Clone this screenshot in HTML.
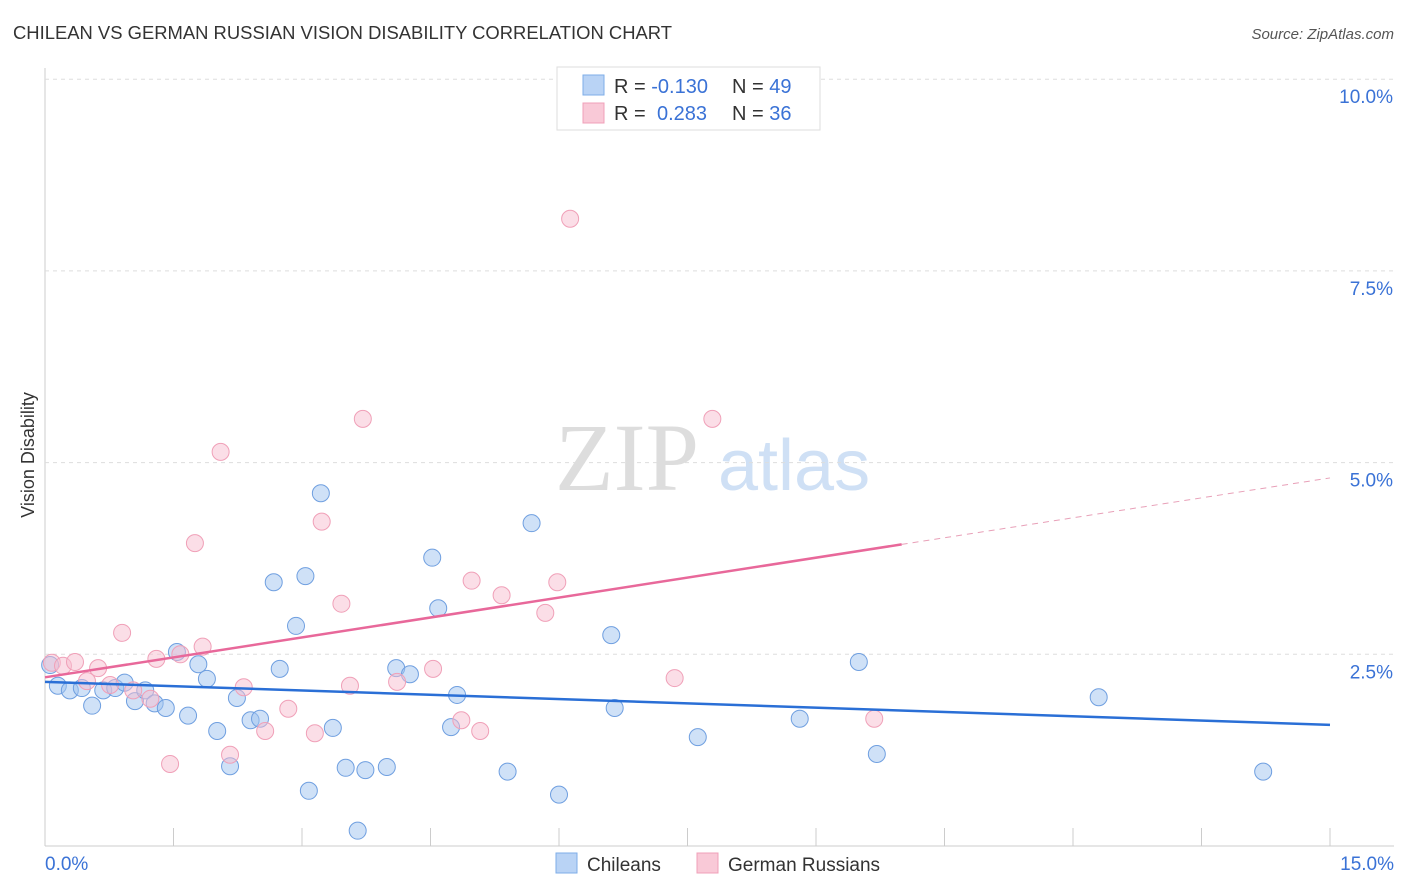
<!DOCTYPE html>
<html><head><meta charset="utf-8"><style>
body{margin:0;background:#fff;font-family:"Liberation Sans",sans-serif;}
svg{display:block}
</style></head><body>
<svg id="c" width="1406" height="892" xmlns="http://www.w3.org/2000/svg">
<text x="13" y="39" font-size="18" fill="#333" textLength="659" lengthAdjust="spacingAndGlyphs">CHILEAN VS GERMAN RUSSIAN VISION DISABILITY CORRELATION CHART</text>
<text x="1394" y="39" font-size="15" fill="#555" text-anchor="end" font-style="italic">Source: ZipAtlas.com</text>
<text x="555" y="490" font-size="96" fill="#ddd" font-family="Liberation Serif,serif">ZIP</text>
<text x="718" y="490" font-size="72" fill="#cfe0f5">atlas</text>
<text transform="translate(34,455) rotate(-90)" font-size="18" fill="#333" text-anchor="middle">Vision Disability</text>
<g id="grid"></g><g id="pts"></g><g id="lines"></g>
<g>
<rect x="557" y="67" width="263" height="63" fill="#fff" stroke="#ddd"/>
<rect x="583" y="75" width="21" height="20" fill="#b9d3f5" stroke="#7eaee8"/>
<rect x="583" y="103" width="21" height="20" fill="#f9c9d7" stroke="#f0a0b8"/>
<text x="614" y="93" font-size="20" fill="#333">R = <tspan fill="#3a72d6">-0.130</tspan><tspan x="732">N = </tspan><tspan fill="#3a72d6">49</tspan></text>
<text x="614" y="120" font-size="20" fill="#333">R = <tspan x="657" fill="#3a72d6">0.283</tspan><tspan x="732">N = </tspan><tspan fill="#3a72d6">36</tspan></text>
</g>
<g>
<rect x="556" y="853" width="21" height="20" fill="#b9d3f5" stroke="#7eaee8"/>
<text x="587" y="871" font-size="19" fill="#333">Chileans</text>
<rect x="697" y="853" width="21" height="20" fill="#f9c9d7" stroke="#f0a0b8"/>
<text x="728" y="871" font-size="19" fill="#333">German Russians</text>
</g>
</svg>
<script>
const yTicks=[2.5,5.0,7.5,10.0];
const xTickVals=[0,1.5,3,4.5,6,7.5,9,10.5,12,13.5,15];
const blueX=[0.06,0.15,0.29,0.43,0.55,0.68,0.82,0.93,1.05,1.17,1.28,1.41,1.54,1.67,1.79,1.89,2.01,2.16,2.24,2.40,2.51,2.67,2.74,2.93,3.04,3.08,3.22,3.36,3.51,3.65,3.74,3.99,4.10,4.26,4.59,4.52,4.74,4.81,5.40,5.68,6.00,6.61,6.65,7.62,8.81,9.50,9.71,12.30,14.22];
const blueY=[2.36,2.09,2.03,2.06,1.83,2.03,2.06,2.13,1.89,2.03,1.86,1.80,2.53,1.70,2.37,2.18,1.50,1.04,1.93,1.64,1.66,3.44,2.31,2.87,3.52,0.72,4.60,1.54,1.02,0.20,0.99,1.03,2.32,2.24,3.10,3.76,1.55,1.97,0.97,4.21,0.67,2.75,1.80,1.42,1.66,2.40,1.20,1.94,0.97];
const pinkX=[0.08,0.21,0.35,0.49,0.62,0.76,0.90,1.03,1.23,1.30,1.46,1.58,1.75,1.84,2.05,2.16,2.32,2.57,2.84,3.15,3.23,3.46,3.56,3.71,4.11,4.53,4.86,4.98,5.08,5.33,5.84,5.98,6.13,7.35,7.79,9.68];
const pinkY=[2.39,2.35,2.40,2.15,2.32,2.10,2.78,2.03,1.92,2.44,1.07,2.50,3.95,2.60,5.14,1.19,2.07,1.50,1.79,1.47,4.23,3.16,2.09,5.57,2.14,2.31,1.64,3.46,1.50,3.27,3.04,3.44,8.18,2.19,5.57,1.66];
const blueTrend=[2.14,1.58];
const pinkTrend=[2.20,4.80];
const pinkSolidEnd=10.0;
const NS="http://www.w3.org/2000/svg";
const X=v=>45+v/15*1285, Y=v=>846-v/2.5*191.7;
function mk(t,a,p){const e=document.createElementNS(NS,t);for(const k in a)e.setAttribute(k,a[k]);document.getElementById(p).appendChild(e);return e;}
const ax=mk('line',{x1:45,y1:68,x2:45,y2:846,stroke:'#ccc'},'grid');


const bx=mk('line',{x1:45,y1:846,x2:1394,y2:846,stroke:'#ccc'},'grid');


yTicks.forEach(v=>{const g=mk('line',{x1:45,x2:1394,y1:Y(v),y2:Y(v),stroke:'#ddd','stroke-dasharray':'4,4'},'grid');


const t=mk('text',{x:1393,y:Y(v)+24,'font-size':19,fill:'#3a72d6','text-anchor':'end'},'grid');t.textContent=v.toFixed(1)+'%';

});
xTickVals.forEach(v=>{const l=mk('line',{x1:X(v),x2:X(v),y1:828,y2:846,stroke:'#ccc'},'grid');

});
const x0=mk('text',{x:45,y:870,'font-size':19,fill:'#3a72d6'},'grid');x0.textContent='0.0%';


const x1=mk('text',{x:1394,y:870,'font-size':19,fill:'#3a72d6','text-anchor':'end'},'grid');x1.textContent='15.0%';


blueX.forEach((v,i)=>{const c=mk('circle',{cx:X(v),cy:Y(blueY[i]),r:8.5,fill:'rgba(160,196,240,0.5)',stroke:'#6f9fe0','stroke-width':1},'pts');

});
pinkX.forEach((v,i)=>{const c=mk('circle',{cx:X(v),cy:Y(pinkY[i]),r:8.5,fill:'rgba(248,190,208,0.5)',stroke:'#f0a0b8','stroke-width':1},'pts');

});
const bl=mk('line',{x1:X(0),y1:Y(blueTrend[0]),x2:X(15),y2:Y(blueTrend[1]),stroke:'#2a6fd6','stroke-width':2.5},'lines');


const pm=pinkTrend[0]+(pinkTrend[1]-pinkTrend[0])*pinkSolidEnd/15;
const pl=mk('line',{x1:X(0),y1:Y(pinkTrend[0]),x2:X(pinkSolidEnd),y2:Y(pm),stroke:'#e8689a','stroke-width':2.5},'lines');


const pd=mk('line',{x1:X(pinkSolidEnd),y1:Y(pm),x2:X(15),y2:Y(pinkTrend[1]),stroke:'#e8a0b8','stroke-width':1,'stroke-dasharray':'6,5'},'lines');


</script>
</body></html>
